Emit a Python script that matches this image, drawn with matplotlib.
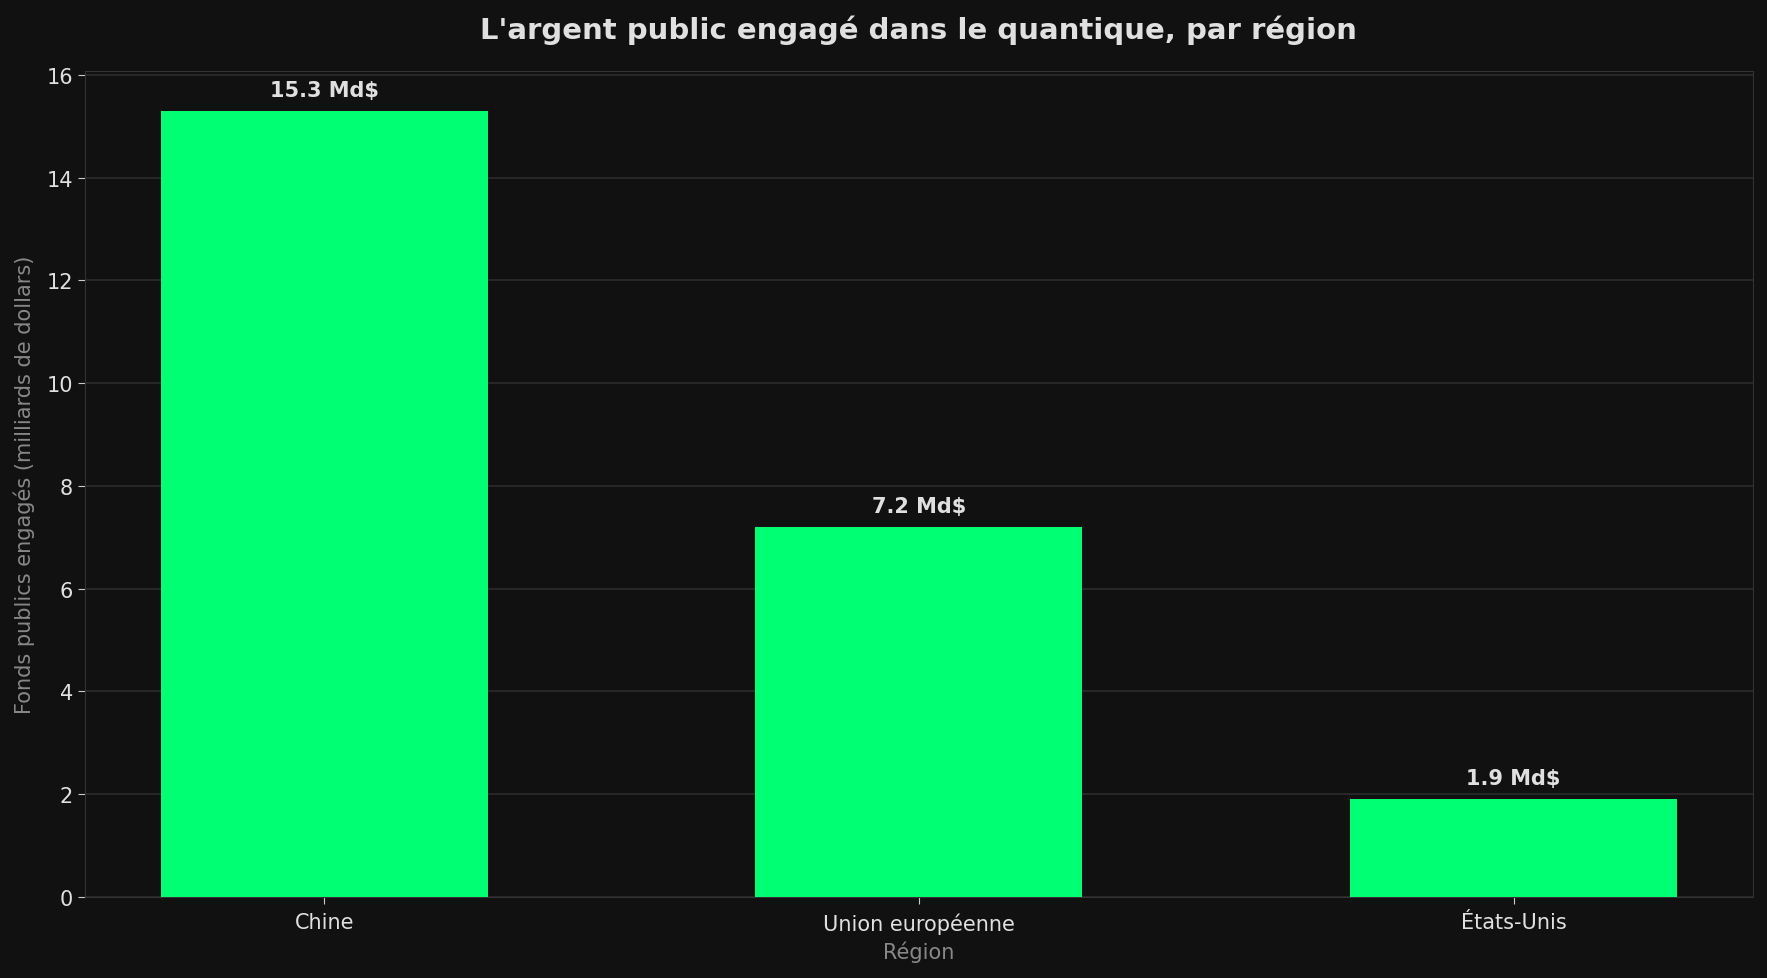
import matplotlib
matplotlib.use("Agg")
import matplotlib.pyplot as plt
import numpy as np

# data
regions = ["Chine", "Union européenne", "États-Unis"]
funds = [15.3, 7.2, 1.9]
labels = ["15.3 Md$", "7.2 Md$", "1.9 Md$"]

bg = "#111111"
bar_color = "#00ff73"
text_color = "#e0e0e0"
muted = "#888888"

fig, ax = plt.subplots(figsize=(17.67, 9.79), dpi=100)
fig.patch.set_facecolor(bg)
ax.set_facecolor(bg)

x = np.arange(len(regions))
ax.bar(x, funds, width=0.55, color=bar_color, zorder=3)

for xi, v, lab in zip(x, funds, labels):
    ax.annotate(lab, (xi, v), xytext=(0, 8), textcoords="offset points",
                ha="center", va="bottom", fontsize=15, fontweight="bold",
                color=text_color)

ax.set_xticks(x)
ax.set_xticklabels(regions)
ax.set_ylim(0, max(funds) * 1.05)
ax.set_yticks(np.arange(0, 17, 2))

ax.grid(axis="y", color="#2c2c2c", linewidth=1.2, zorder=0)
ax.set_axisbelow(True)
for s in ax.spines.values():
    s.set_color("#333333")
ax.tick_params(colors=text_color, labelsize=15, length=5, color="#cccccc")
ax.tick_params(axis="x", pad=6)

ax.set_title("L'argent public engagé dans le quantique, par région",
             fontsize=21, fontweight="bold", color=text_color, pad=24)
ax.set_xlabel("Région", fontsize=15, color=muted, labelpad=5)
ax.set_ylabel("Fonds publics engagés (milliards de dollars)", fontsize=15,
              color=muted, labelpad=8)

fig.subplots_adjust(left=0.048, right=0.992, top=0.926, bottom=0.083)
fig.savefig("out.png", dpi=100, facecolor=bg)
